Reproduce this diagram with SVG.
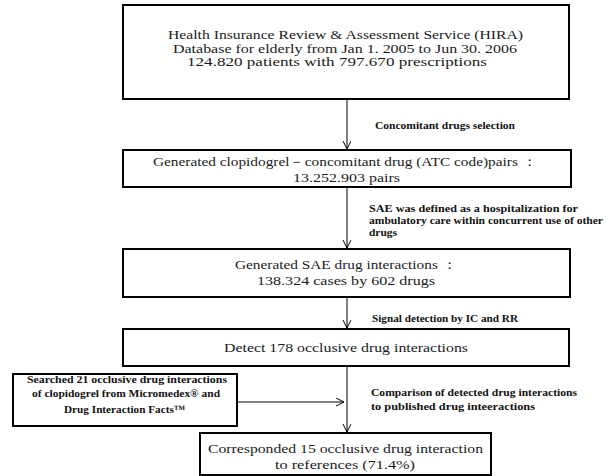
<svg xmlns="http://www.w3.org/2000/svg" width="615" height="476" viewBox="0 0 615 476">
<style>
.box{fill:#fff;stroke:#000;stroke-width:2}
.t{font-family:"Liberation Serif","DejaVu Serif",serif;font-size:13px;fill:#1a1a1a}
.lb{font-family:"Liberation Serif","DejaVu Serif",serif;font-size:10.5px;font-weight:bold;fill:#111}
.sm{font-family:"Liberation Serif","DejaVu Serif",serif;font-size:11px;font-weight:bold;fill:#111}
.c{fill:none;stroke:#000;stroke-width:1}
</style>
<defs>
<marker id="ah" markerWidth="10" markerHeight="10" refX="8" refY="4" orient="auto" markerUnits="userSpaceOnUse">
<path d="M0,0 L8,4 L0,8" fill="none" stroke="#000" stroke-width="1"/>
</marker>
</defs>
<rect width="615" height="476" fill="#fff"/>
<g id="connectors">
<line class="c" x1="347" y1="99" x2="347" y2="149" marker-end="url(#ah)"/>
<line class="c" x1="347" y1="187" x2="347" y2="248" marker-end="url(#ah)"/>
<line class="c" x1="347" y1="297" x2="347" y2="328" marker-end="url(#ah)"/>
<line class="c" x1="347" y1="366" x2="347" y2="432" marker-end="url(#ah)"/>
<line class="c" x1="237" y1="402" x2="344" y2="402" marker-end="url(#ah)"/>
<text class="lb" x="375" y="129" textLength="140" lengthAdjust="spacingAndGlyphs">Concomitant drugs selection</text>
<text class="lb" x="369" y="212" textLength="209" lengthAdjust="spacingAndGlyphs">SAE was defined as a hospitalization for</text>
<text class="lb" x="369" y="224" textLength="234" lengthAdjust="spacingAndGlyphs">ambulatory care within concurrent use of other</text>
<text class="lb" x="369" y="236" textLength="28" lengthAdjust="spacingAndGlyphs">drugs</text>
<text class="lb" x="372" y="322" textLength="146" lengthAdjust="spacingAndGlyphs">Signal detection by IC and RR</text>
<text class="lb" x="371" y="396" textLength="206" lengthAdjust="spacingAndGlyphs">Comparison of detected drug interactions</text>
<text class="lb" x="371" y="410" textLength="164" lengthAdjust="spacingAndGlyphs">to published drug inteeractions</text>
</g>
<g id="hira">
<rect class="box" x="123" y="5" width="446" height="94"/>
<text class="t" x="168" y="39" textLength="355" lengthAdjust="spacingAndGlyphs">Health Insurance Review &amp; Assessment Service (HIRA)</text>
<text class="t" x="173" y="52.5" textLength="344" lengthAdjust="spacingAndGlyphs">Database for elderly from Jan 1. 2005 to Jun 30. 2006</text>
<text class="t" x="187" y="66" textLength="300" lengthAdjust="spacingAndGlyphs">124.820 patients with 797.670 prescriptions</text>
</g>
<g id="pairs">
<rect class="box" x="123" y="150" width="448" height="37"/>
<text class="t" x="153" y="166" textLength="384" lengthAdjust="spacingAndGlyphs">Generated clopidogrel－concomitant drug (ATC code)pairs ：</text>
<text class="t" x="293" y="181.5" textLength="107" lengthAdjust="spacingAndGlyphs">13.252.903 pairs</text>
</g>
<g id="sae">
<rect class="box" x="123" y="249" width="447" height="48"/>
<text class="t" x="235" y="269" textLength="222" lengthAdjust="spacingAndGlyphs">Generated SAE drug interactions ：</text>
<text class="t" x="257" y="285" textLength="178" lengthAdjust="spacingAndGlyphs">138.324 cases by 602 drugs</text>
</g>
<g id="detect">
<rect class="box" x="123" y="329" width="446" height="37"/>
<text class="t" x="224" y="351.5" textLength="244" lengthAdjust="spacingAndGlyphs">Detect 178 occlusive drug interactions</text>
</g>
<g id="searched">
<rect class="box" x="13" y="374" width="224" height="52"/>
<text class="sm" x="27" y="383" textLength="200" lengthAdjust="spacingAndGlyphs">Searched 21 occlusive drug interactions</text>
<text class="sm" x="32" y="397" textLength="188" lengthAdjust="spacingAndGlyphs">of clopidogrel from Micromedex® and</text>
<text class="sm" x="64" y="413" textLength="121" lengthAdjust="spacingAndGlyphs">Drug Interaction Facts™</text>
</g>
<g id="corresponded">
<rect class="box" x="200" y="433" width="291" height="42"/>
<text class="t" x="208" y="452.5" textLength="275" lengthAdjust="spacingAndGlyphs">Corresponded 15 occlusive drug interaction</text>
<text class="t" x="275" y="468.5" textLength="140" lengthAdjust="spacingAndGlyphs">to references (71.4%)</text>
</g>
</svg>
